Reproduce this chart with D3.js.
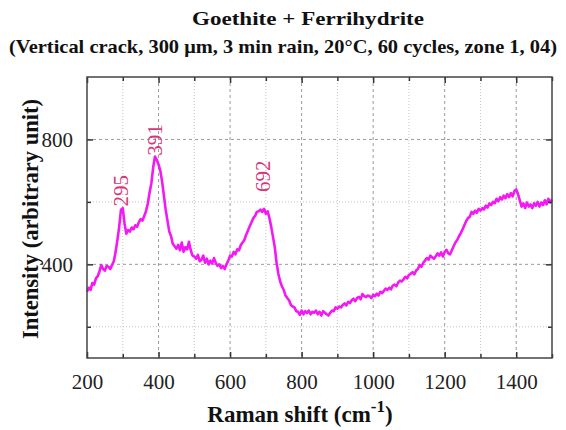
<!DOCTYPE html>
<html><head><meta charset="utf-8">
<script src="https://cdn.jsdelivr.net/npm/d3@7"></script>
<style>body{margin:0;background:#fff}svg{display:block}</style>
</head><body>
<svg id="c" width="566" height="430"></svg>
<script>
const titleLines = ["Goethite + Ferrihydrite", "(Vertical crack, 300 μm, 3 min rain, 20°C, 60 cycles, zone 1, 04)"];
const xLabel = "Raman shift (cm";
const xLabelSup = "-1";
const yLabel = "Intensity (arbitrary unit)";
const xTicks = [200, 400, 600, 800, 1000, 1200, 1400];
const xMinorTicks = [300, 500, 700, 900, 1100, 1300, 1500];
const yTicks = [400, 800];
const yMinorTicks = [200, 600];
const xDomain = [200, 1500];
const yDomain = [100, 1000];
const peakPositions = [295, 391, 692];
const peakLabelAnchors = [585, 748, 632];
const peakLabels = ["295", "391", "692"];
const ramanShift = [200,205,210,215,220,225,230,235,240,245,250,255,260,265,270,275,280,285,290,295,300,305,310,315,320,325,330,335,340,345,350,355,360,365,370,375,380,385,390,395,400,405,410,415,420,425,430,435,440,445,450,455,460,465,470,475,480,485,490,495,500,505,510,515,520,525,530,535,540,545,550,555,560,565,570,575,580,585,590,595,600,605,610,615,620,625,630,635,640,645,650,655,660,665,670,675,680,685,690,695,700,705,710,715,720,725,730,735,740,745,750,755,760,765,770,775,780,785,790,795,800,805,810,815,820,825,830,835,840,845,850,855,860,865,870,875,880,885,890,895,900,905,910,915,920,925,930,935,940,945,950,955,960,965,970,975,980,985,990,995,1000,1005,1010,1015,1020,1025,1030,1035,1040,1045,1050,1055,1060,1065,1070,1075,1080,1085,1090,1095,1100,1105,1110,1115,1120,1125,1130,1135,1140,1145,1150,1155,1160,1165,1170,1175,1180,1185,1190,1195,1200,1205,1210,1215,1220,1225,1230,1235,1240,1245,1250,1255,1260,1265,1270,1275,1280,1285,1290,1295,1300,1305,1310,1315,1320,1325,1330,1335,1340,1345,1350,1355,1360,1365,1370,1375,1380,1385,1390,1395,1400,1405,1410,1415,1420,1425,1430,1435,1440,1445,1450,1455,1460,1465,1470,1475,1480,1485,1490,1495,1500];
const intensity = [312,325,318,340,335,355,362,378,398,385,380,395,392,385,398,410,440,478,520,575,580,530,498,510,505,518,512,525,520,535,545,540,555,570,595,630,660,710,745,735,720,700,665,620,575,540,505,490,465,458,450,462,445,470,440,455,448,472,445,428,425,418,430,410,415,428,405,418,400,412,402,420,405,395,400,388,395,385,400,412,428,425,440,432,448,445,462,470,478,495,508,522,535,548,555,568,570,575,568,578,562,570,548,520,488,455,405,370,345,330,318,300,292,285,270,265,262,250,248,238,252,240,250,244,252,240,248,245,252,240,248,236,250,245,240,236,245,252,250,262,258,265,262,270,275,268,280,276,285,290,282,292,296,288,305,298,295,300,298,292,302,298,306,300,312,308,315,322,318,325,320,332,335,330,342,348,345,352,360,355,366,370,375,368,380,385,398,392,405,412,420,415,428,422,418,426,435,428,438,425,440,446,435,432,445,458,470,478,490,500,512,525,538,548,552,568,562,572,565,578,572,580,576,588,582,595,590,600,596,610,602,615,608,620,612,625,615,628,618,635,640,625,605,585,595,580,598,585,592,580,596,588,600,585,598,590,605,592,610,598,608];

const svg = d3.select("#c");
const m = {l:87, r:552, t:77, b:358};
const x = d3.scaleLinear().domain(xDomain).range([m.l, m.r]);
const y = d3.scaleLinear().domain(yDomain).range([m.b, m.t]);
const serif = "'Liberation Serif', 'Times New Roman', serif";

// gridlines
const g = svg.append("g");
g.selectAll(".gxM").data(xTicks.filter(d => d > xDomain[0])).join("line")
  .attr("x1", d => x(d)).attr("x2", d => x(d)).attr("y1", m.t).attr("y2", m.b)
  .attr("stroke", "#9a9a9a").attr("stroke-width", 1).attr("stroke-dasharray", "3,3");
g.selectAll(".gxm").data(xMinorTicks.filter(d => d < xDomain[1])).join("line")
  .attr("x1", d => x(d)).attr("x2", d => x(d)).attr("y1", m.t).attr("y2", m.b)
  .attr("stroke", "#c4c4c4").attr("stroke-width", 1).attr("stroke-dasharray", "1,2");
g.selectAll(".gyM").data(yTicks).join("line")
  .attr("x1", m.l).attr("x2", m.r).attr("y1", d => y(d)).attr("y2", d => y(d))
  .attr("stroke", "#9a9a9a").attr("stroke-width", 1).attr("stroke-dasharray", "3,3");
g.selectAll(".gym").data(yMinorTicks).join("line")
  .attr("x1", m.l).attr("x2", m.r).attr("y1", d => y(d)).attr("y2", d => y(d))
  .attr("stroke", "#c4c4c4").attr("stroke-width", 1).attr("stroke-dasharray", "1,2");

// spectrum
const pts = ramanShift.map((v, i) => [v, intensity[i]]);
svg.append("path").datum(pts)
  .attr("d", d3.line().x(d => x(d[0])).y(d => y(d[1])))
  .attr("fill", "none").attr("stroke", "#f219f2").attr("stroke-width", 2.6)
  .attr("stroke-linejoin", "round");

// peak labels
svg.selectAll(".pk").data(peakPositions).join("text")
  .attr("transform", (d, i) => `translate(${x(d) + 7},${y(peakLabelAnchors[i])}) rotate(-90)`)
  .attr("font-family", serif).attr("font-size", 21).attr("fill", "#d8357a")
  .text((d, i) => peakLabels[i]);

// axes with inward ticks
const axes = svg.append("g").attr("font-family", serif);
function styleAxis(sel) {
  sel.select(".domain").remove();
  sel.selectAll(".tick line").attr("stroke", "#333").attr("stroke-width", 1.5);
  sel.selectAll("text").attr("font-family", serif).attr("font-size", 21).attr("fill", "#222");
}
axes.append("g").attr("transform", `translate(0,${m.b})`)
  .call(d3.axisBottom(x).tickValues(xTicks).tickSizeInner(-6).tickSizeOuter(0).tickPadding(16).tickFormat(d3.format("d")))
  .call(styleAxis);
axes.append("g").attr("transform", `translate(0,${m.b})`)
  .call(d3.axisBottom(x).tickValues(xMinorTicks).tickSizeInner(-4).tickSizeOuter(0).tickFormat(""))
  .call(styleAxis);
axes.append("g").attr("transform", `translate(0,${m.t})`)
  .call(d3.axisTop(x).tickValues(xTicks).tickSizeInner(-6).tickSizeOuter(0).tickFormat(""))
  .call(styleAxis);
axes.append("g").attr("transform", `translate(0,${m.t})`)
  .call(d3.axisTop(x).tickValues(xMinorTicks).tickSizeInner(-4).tickSizeOuter(0).tickFormat(""))
  .call(styleAxis);
axes.append("g").attr("transform", `translate(${m.l},0)`)
  .call(d3.axisLeft(y).tickValues(yTicks).tickSizeInner(-6).tickSizeOuter(0).tickPadding(14).tickFormat(d3.format("d")))
  .call(styleAxis);
axes.append("g").attr("transform", `translate(${m.l},0)`)
  .call(d3.axisLeft(y).tickValues(yMinorTicks).tickSizeInner(-4).tickSizeOuter(0).tickFormat(""))
  .call(styleAxis);
axes.append("g").attr("transform", `translate(${m.r},0)`)
  .call(d3.axisRight(y).tickValues(yTicks).tickSizeInner(-6).tickSizeOuter(0).tickFormat(""))
  .call(styleAxis);
axes.append("g").attr("transform", `translate(${m.r},0)`)
  .call(d3.axisRight(y).tickValues(yMinorTicks).tickSizeInner(-4).tickSizeOuter(0).tickFormat(""))
  .call(styleAxis);

// frame
svg.append("rect").attr("x", m.l).attr("y", m.t).attr("width", m.r - m.l).attr("height", m.b - m.t)
  .attr("fill", "none").attr("stroke", "#444").attr("stroke-width", 1.5);

// titles
svg.append("text").attr("x", 308).attr("y", 25).attr("text-anchor", "middle")
  .attr("font-family", serif).attr("font-weight", "bold").attr("font-size", 19).attr("fill", "#111")
  .attr("textLength", 232).attr("lengthAdjust", "spacingAndGlyphs").text(titleLines[0]);
svg.append("text").attr("x", 283).attr("y", 53).attr("text-anchor", "middle")
  .attr("font-family", serif).attr("font-weight", "bold").attr("font-size", 19).attr("fill", "#111")
  .attr("textLength", 548).attr("lengthAdjust", "spacingAndGlyphs").text(titleLines[1]);

// x label
const xl = svg.append("text").attr("x", 300).attr("y", 422).attr("text-anchor", "middle")
  .attr("font-family", serif).attr("font-weight", "bold").attr("font-size", 23).attr("fill", "#111");
xl.append("tspan").text(xLabel);
xl.append("tspan").attr("dy", -10).attr("font-size", 17).text(xLabelSup);
xl.append("tspan").attr("dy", 10).text(")");

// y label
svg.append("text").attr("transform", `translate(38,219) rotate(-90)`).attr("text-anchor", "middle")
  .attr("font-family", serif).attr("font-weight", "bold").attr("font-size", 23).attr("fill", "#111")
  .attr("textLength", 240).attr("lengthAdjust", "spacingAndGlyphs").text(yLabel);
</script>
</body></html>
